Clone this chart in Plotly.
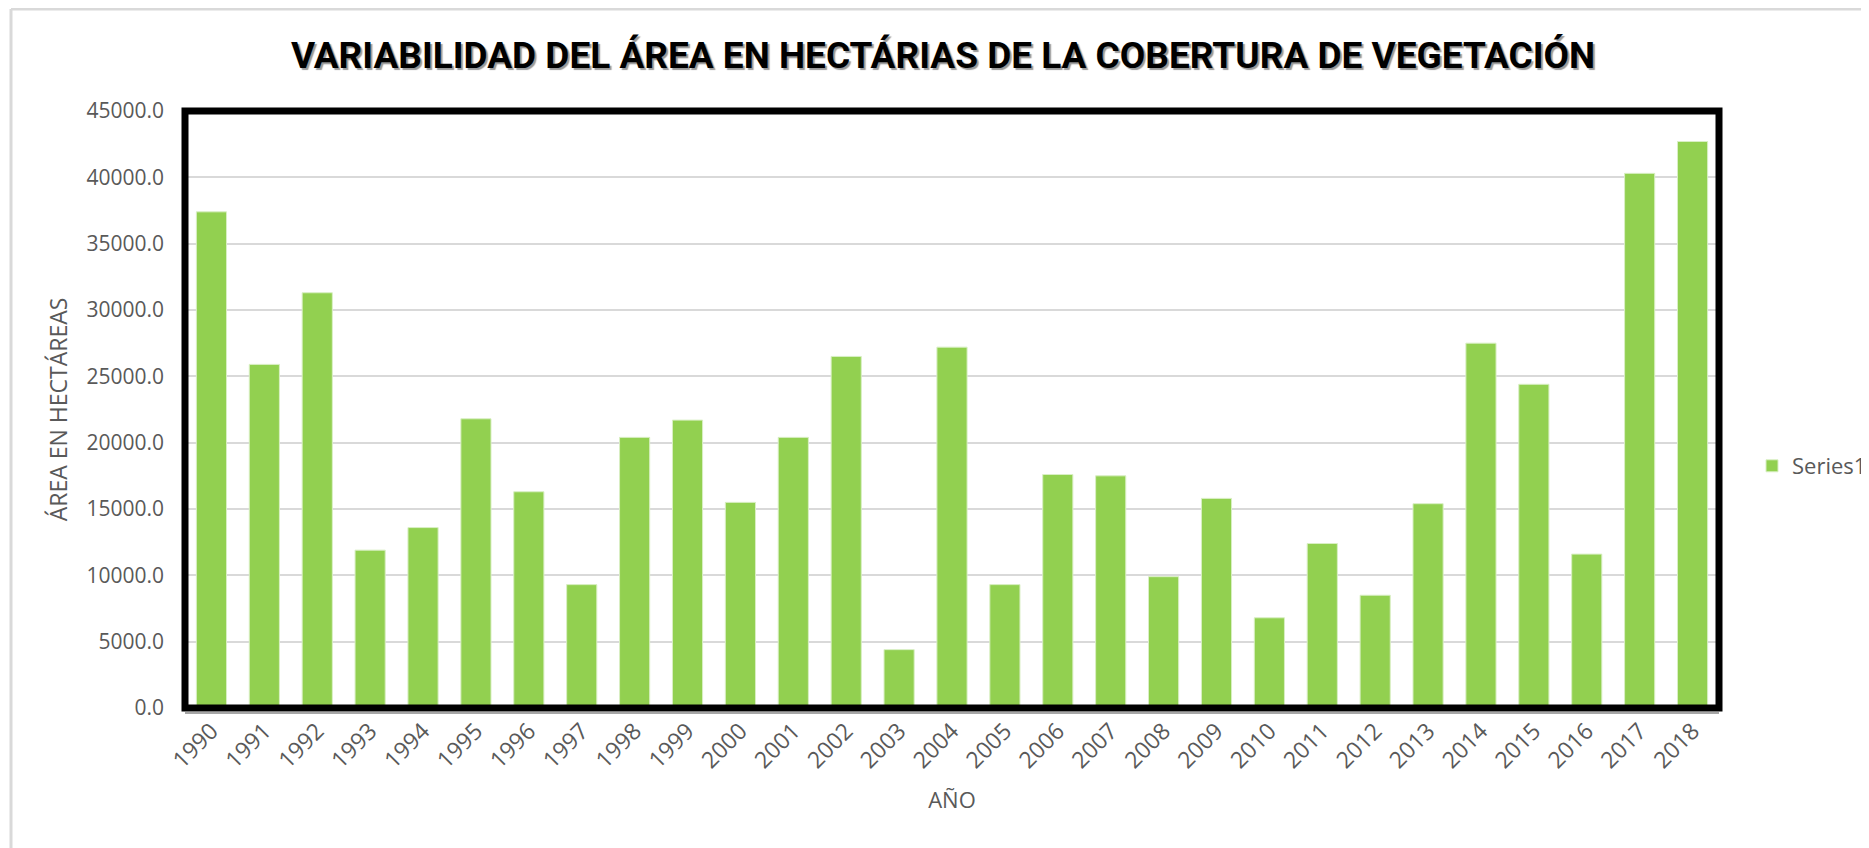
import plotly.graph_objects as go

# data
years = [str(y) for y in range(1990, 2019)]
area_ha = [37400, 25900, 31300, 11900, 13600, 21800, 16300, 9300, 20400, 21700,
           15500, 20400, 26500, 4400, 27200, 9300, 17600, 17500, 9900, 15800,
           6800, 12400, 8500, 15400, 27500, 24400, 11600, 40300, 42700]
y_ticks = list(range(0, 45001, 5000))

# page is 1869x848 but the body has an 8px margin
OFF = 8
W, H = 1869 - OFF, 848 - OFF
L, T = 185 - OFF, 111 - OFF
pw, ph = 1534, 597
R, B = W - L - pw, H - T - ph

# helpers: page pixel -> paper coords
def px_x(p):
    return (p - OFF - L) / pw

def px_y(p):
    return (T + ph - (p - OFF)) / ph

grey = '#595959'
fnt = 'Open Sans, Liberation Sans, sans-serif'

fig = go.Figure()
fig.add_trace(go.Bar(x=years, y=area_ha, name='Series1',
                     marker=dict(color='#92D050', line=dict(color='#D9EFC4', width=1))))

fig.update_layout(
    width=W, height=H,
    margin=dict(l=L, r=R, t=T, b=B, autoexpand=False),
    paper_bgcolor='white', plot_bgcolor='white',
    bargap=0.43,
    showlegend=True,
    title=dict(text='<b>VARIABILIDAD DEL ÁREA EN HECTÁRIAS DE LA COBERTURA DE VEGETACIÓN</b>',
               x=(943 - OFF) / W, xanchor='center', y=1 - (55 - OFF) / H, yanchor='middle',
               font=dict(family='Liberation Sans Narrow, Roboto, sans-serif', size=37, color='black',
                         shadow='2px 2px 1px #999999')),
    legend=dict(x=px_x(1752), xanchor='left', y=px_y(466), yanchor='middle',
                font=dict(family=fnt, size=22, color=grey), itemwidth=30),
    font=dict(family=fnt, color=grey),
)

fig.update_xaxes(
    type='category', tickangle=-45, tickfont=dict(size=23, color=grey),
    title=dict(text='AÑO', font=dict(size=22, color=grey), standoff=18),
    showgrid=False, showline=False, ticks='', ticklabelstandoff=4,
)
fig.update_yaxes(
    range=[0, 45000], tickvals=y_ticks, tickformat='.1f',
    tickfont=dict(size=21, color=grey), ticklabelstandoff=20,
    title=dict(text='ÁREA EN HECTÁREAS', font=dict(size=23, color=grey), standoff=12),
    showgrid=True, gridcolor='#D9D9D9', gridwidth=2, zeroline=False, showline=False,
)

# thick black frame round the plot area
fig.add_shape(type='rect', xref='paper', yref='paper', x0=0, x1=1, y0=0, y1=1,
              line=dict(color='black', width=7), layer='above')
fig.add_shape(type='line', xref='paper', yref='paper', x0=0, x1=1,
              y0=px_y(713), y1=px_y(713), line=dict(color='#A6A6A6', width=2), layer='above')
# light chart border
fig.add_shape(type='line', xref='paper', yref='paper', x0=px_x(11), x1=px_x(1869),
              y0=px_y(9), y1=px_y(9), line=dict(color='#D9D9D9', width=3))
fig.add_shape(type='line', xref='paper', yref='paper', x0=px_x(11), x1=px_x(11),
              y0=px_y(9), y1=px_y(848), line=dict(color='#D9D9D9', width=3))

fig.write_html('out.html')
